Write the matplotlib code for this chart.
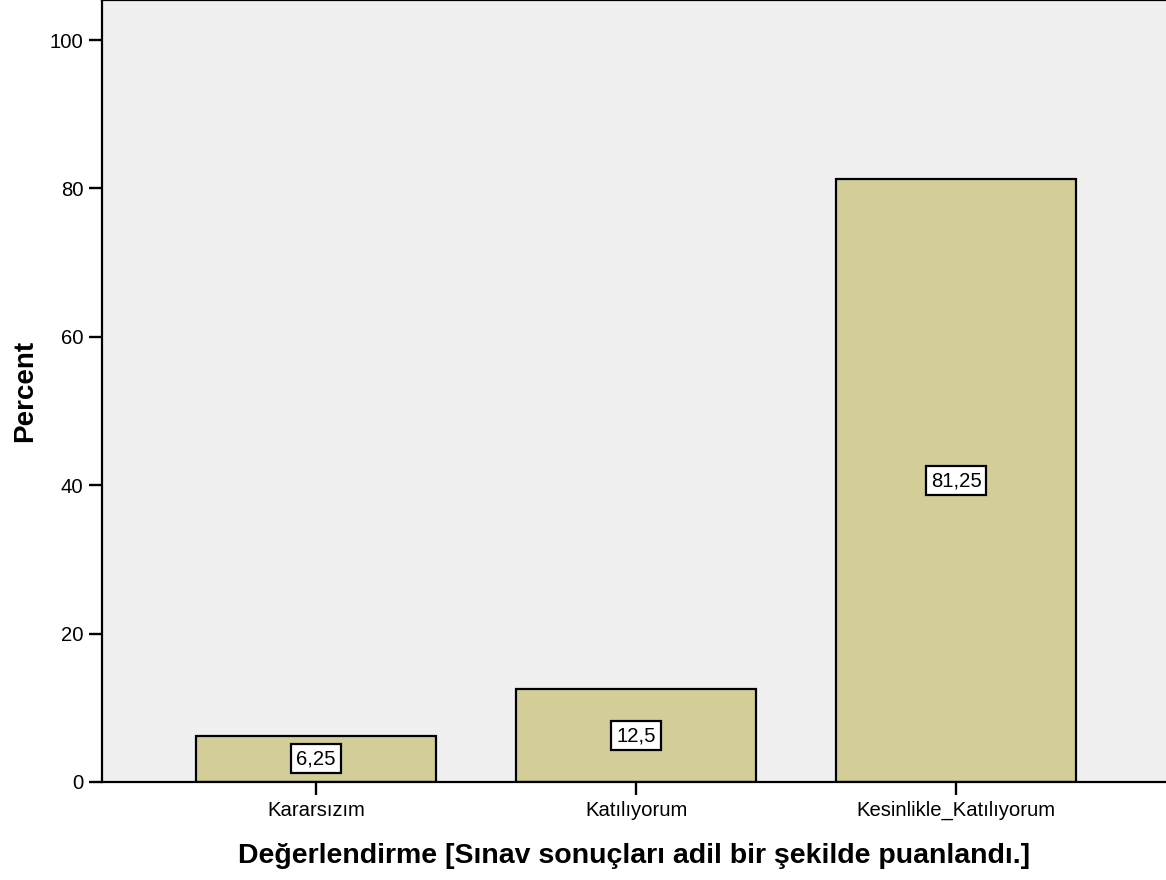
import matplotlib
matplotlib.use("Agg")
import matplotlib.pyplot as plt

categories = ["Kararsızım", "Katılıyorum", "Kesinlikle_Katılıyorum"]
percents = [6.25, 12.5, 81.25]
value_labels = ["6,25", "12,5", "81,25"]
y_ticks = [0, 20, 40, 60, 80, 100]

plt.rcParams['font.family'] = ['Liberation Sans', 'DejaVu Sans']

fig = plt.figure(figsize=(11.66, 8.8), dpi=100)
ax = fig.add_axes([0.0875, 0.1114, 0.9125, 0.8886])
ax.set_facecolor('#f0f0f0')

x = list(range(len(categories)))
ax.bar(x, percents, width=0.75, color='#d3ce97', edgecolor='black', linewidth=1.6, zorder=2)

for xi, val, lab in zip(x, percents, value_labels):
    ax.text(xi, val / 2, lab, ha='center', va='center', fontsize=14.6, zorder=3,
            bbox=dict(boxstyle='square,pad=0.24', facecolor='white', edgecolor='black', linewidth=1.6))

ax.set_xlim(-0.669, 2.656)
ax.set_ylim(0, 105.4)
ax.set_xticks(x)
ax.set_xticklabels(categories, fontsize=14.6)
ax.set_yticks(y_ticks)
ax.set_yticklabels([str(t) for t in y_ticks], fontsize=14.6)
ax.tick_params(axis='both', length=9.4, width=1.7, direction='out', pad=4)

for side in ['left', 'bottom', 'top']:
    ax.spines[side].set_linewidth(1.6)
ax.spines['right'].set_visible(False)

ax.set_xlabel('Değerlendirme [Sınav sonuçları adil bir şekilde puanlandı.]',
              fontsize=20.5, fontweight='bold')
ax.xaxis.set_label_coords(0.5, -0.1036)
ax.xaxis.label.set_va('baseline')

ax.set_ylabel('Percent', fontsize=20, fontweight='bold')
ax.yaxis.set_label_coords(-0.0724, 0.5)
ax.yaxis.label.set_va('center')

fig.savefig('out.png', dpi=100)
